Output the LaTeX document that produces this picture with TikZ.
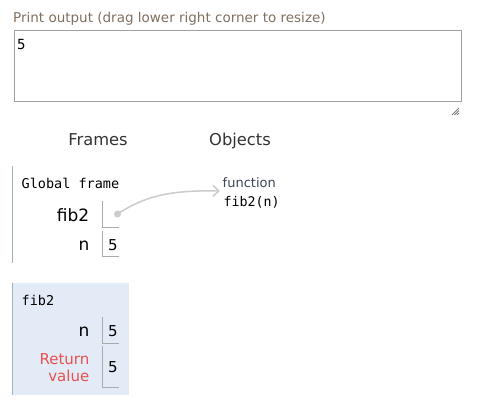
\documentclass[tikz,border=0pt]{standalone}
\usepackage{fontspec}
\setmainfont{DejaVu Sans}
\newfontfamily\monof{DejaVu Sans Mono}
\usetikzlibrary{arrows.meta}
\definecolor{plabelc}{RGB}{128,112,96}
\definecolor{headc}{RGB}{51,51,51}
\definecolor{tabordc}{RGB}{160,160,160}
\definecolor{framelinec}{RGB}{166,179,182}
\definecolor{framebg}{RGB}{226,235,246}
\definecolor{cellc}{RGB}{170,170,170}
\definecolor{arrowc}{RGB}{204,204,204}
\definecolor{retc}{RGB}{233,80,80}
\definecolor{funcc}{RGB}{60,70,90}
\tikzset{
  varlabel/.style={anchor=base east, inner sep=0pt, font=\fontsize{17}{17}\selectfont, text=black},
  valtext/.style={anchor=base west, inner sep=0pt, font=\fontsize{15}{15}\selectfont, text=black},
  monotext/.style={anchor=base west, inner sep=0pt, font=\monof\fontsize{13.5}{13.5}\selectfont, text=black},
  header/.style={anchor=base, inner sep=0pt, font=\fontsize{16.3}{16.3}\selectfont, text=headc},
  cellline/.style={draw=cellc, line width=1pt},
  frameline/.style={draw=framelinec, line width=1.5pt},
}
\begin{document}
\begin{tikzpicture}[x=1pt,y=-1pt]
\useasboundingbox[fill=white] (0,0) rectangle (480,413);
% print output
\node[anchor=base west, inner sep=0pt, font=\fontsize{13.5}{13.5}\selectfont, text=plabelc] (plabel) at (13,22) {Print output (drag lower right corner to resize)};
\node[draw=tabordc, line width=1pt, anchor=north west, inner sep=0pt, minimum width=447pt, minimum height=71pt] (ta) at (13.5,29.5) {};
\node[anchor=base west, inner sep=0pt, font=\monof\fontsize{14}{14}\selectfont] (out) at (17,49) {5};
\draw[gray, line width=0.8pt] (459,108) -- (452,115) (459,110.5) -- (454.5,115) (459,113) -- (457,115);
% headers
\node[header] (hframes) at (98,145) {Frames};
\node[header] (hobjects) at (240,145) {Objects};
% global frame
\draw[frameline] (12.3,166) -- (12.3,263);
\node[monotext] (gtitle) at (21.5,188) {Global frame};
\node[varlabel] (lfib) at (89.5,221) {fib2};
\draw[cellline] (102.7,201) -- (102.7,227.3) -- (119,227.3);
\node[circle, fill=arrowc, inner sep=0pt, minimum size=7pt] (dot) at (117.5,214) {};
\node[varlabel] (ln) at (89.5,250) {n};
\draw[cellline] (102.7,230.7) -- (102.7,256) -- (119,256);
\node[valtext] (vn) at (108,250.7) {5};
% object
\node[anchor=base west, inner sep=0pt, font=\fontsize{13}{13}\selectfont, text=funcc] (func) at (222.5,187) {function};
\node[anchor=base west, inner sep=0pt, font=\monof\fontsize{13.3}{13.3}\selectfont] (fname) at (223.5,206) {fib2(n)};
\coordinate (tip) at (220,191);
\draw[draw=arrowc, line width=1.5pt, -{Straight Barb[length=6pt,width=11pt]}] (dot.center) .. controls (145,196) and (170,190) .. (tip);
% fib2 frame
\fill[framebg] (12.3,282.7) rectangle (128.7,395);
\draw[frameline] (12.3,282.7) -- (12.3,395);
\node[monotext] (ftitle) at (21.5,305) {fib2};
\node[varlabel] (fn) at (89.5,336.7) {n};
\draw[cellline] (102.7,317.3) -- (102.7,343.3) -- (119,343.3);
\node[valtext] (fvn) at (108,336.7) {5};
\node[anchor=base east, inner sep=0pt, align=right, font=\fontsize{15}{17.4}\selectfont, text=retc] (ret) at (89.5,381.7) {Return\\value};
\draw[cellline] (102.7,346) -- (102.7,387.3) -- (119,387.3);
\node[valtext] (fvr) at (108,372.7) {5};
\end{tikzpicture}
\end{document}
